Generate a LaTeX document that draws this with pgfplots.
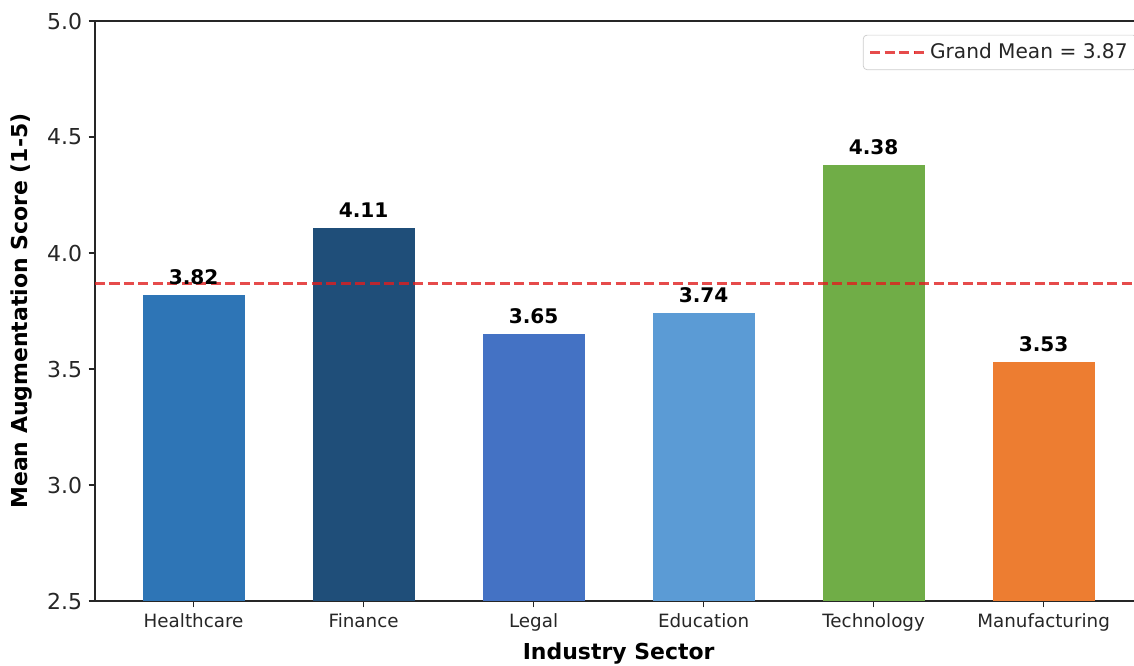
\documentclass[border=0pt]{standalone}
\usepackage{fontspec}
\setmainfont{DejaVu Sans}
\usepackage{pgfplots}
\pgfplotsset{compat=1.18}
\definecolor{cHealth}{RGB}{46,117,182}
\definecolor{cFin}{RGB}{31,78,121}
\definecolor{cLegal}{RGB}{68,114,196}
\definecolor{cEdu}{RGB}{91,155,213}
\definecolor{cTech}{RGB}{112,173,71}
\definecolor{cManu}{RGB}{237,125,49}
\definecolor{cMean}{RGB}{224,30,30}
\pgfplotsset{meanleg/.style={legend image code/.code={\draw[##1] (0pt,0pt) -- (24pt,0pt); \path (24pt,0pt) -- (30pt,0pt);}}}
\begin{document}
\begin{tikzpicture}
\begin{axis}[
  at={(0,0)}, anchor=south west,
  scale only axis, width=572.2pt, height=316.9pt,
  xmin=-0.58, xmax=5.58, ymin=2.5, ymax=5.0,
  ytick={2.5,3.0,3.5,4.0,4.5,5.0},
  yticklabel style={/pgf/number format/fixed, /pgf/number format/fixed zerofill, /pgf/number format/precision=1},
  xtick={0,1,2,3,4,5},
  xticklabels={Healthcare,Finance,Legal,Education,Technology,Manufacturing},
  /pgf/number format/assume math mode=true,
  tick align=outside, tick pos=left,
  major tick length=3.5pt,
  tick style={black!85, line width=0.8pt},
  axis line style={black!85, line width=0.8pt},
  yticklabel style={font=\fontsize{12}{14}\selectfont, text=black!85},
  xticklabel style={font=\fontsize{10}{12}\selectfont, text=black!85},
  xlabel={Industry Sector},
  ylabel={Mean Augmentation Score (1-5)},
  xlabel style={font=\fontsize{12}{14}\selectfont\bfseries, at={(axis description cs:0.5,-0.0897)}, anchor=center},
  ylabel style={font=\fontsize{12}{14}\selectfont\bfseries, at={(axis description cs:-0.0697,0.5)}, anchor=center},
  legend style={at={(1,1)}, anchor=north east, xshift=-2.8pt, yshift=-7.5pt,
    draw=black!20, rounded corners=2pt, fill=white,
    font=\fontsize{11}{13}\selectfont, text=black!85,
    inner xsep=3pt, inner ysep=2.5pt},
  legend cell align=left,
  meanleg,
  every node near coord/.append style={font=\fontsize{11}{13}\selectfont\bfseries, inner sep=0pt, anchor=south, yshift=5.5pt, text=black,
    /pgf/number format/fixed, /pgf/number format/fixed zerofill, /pgf/number format/precision=2},
]
\addplot[ybar, bar width=0.6, bar shift=0pt, fill=cHealth, draw=none, nodes near coords, forget plot] coordinates {(0,3.82)};
\addplot[ybar, bar width=0.6, bar shift=0pt, fill=cFin, draw=none, nodes near coords, forget plot] coordinates {(1,4.11)};
\addplot[ybar, bar width=0.6, bar shift=0pt, fill=cLegal, draw=none, nodes near coords, forget plot] coordinates {(2,3.65)};
\addplot[ybar, bar width=0.6, bar shift=0pt, fill=cEdu, draw=none, nodes near coords, forget plot] coordinates {(3,3.74)};
\addplot[ybar, bar width=0.6, bar shift=0pt, fill=cTech, draw=none, nodes near coords, forget plot] coordinates {(4,4.38)};
\addplot[ybar, bar width=0.6, bar shift=0pt, fill=cManu, draw=none, nodes near coords, forget plot] coordinates {(5,3.53)};
\addplot[cMean, draw opacity=0.8, line width=1.5pt, dash pattern=on 5.5pt off 2.4pt] coordinates {(-0.58,3.87) (5.58,3.87)};
\addlegendentry{Grand Mean = 3.87}
\end{axis}
\pgfresetboundingbox
\path[use as bounding box] (-51.9pt,-35pt) rectangle (567.7pt,328.4pt);
\end{tikzpicture}
\end{document}
